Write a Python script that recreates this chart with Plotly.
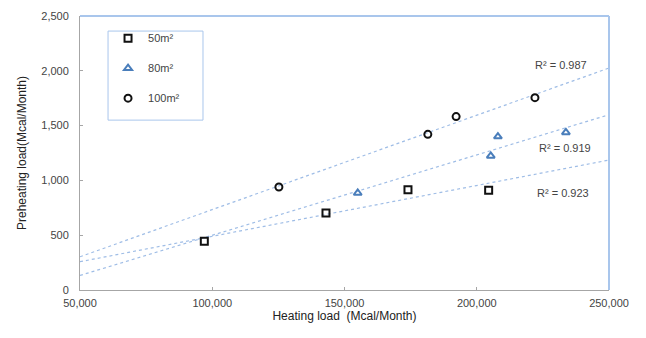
import numpy as np
import plotly.graph_objects as go

# Data (heating load in Mcal/Month, preheating load in Mcal/Month)
x50 = [97000, 143000, 174000, 204500]
y50 = [445, 703, 915, 910]
x80 = [155000, 205300, 208000, 233700]
y80 = [885, 1223, 1400, 1438]
x100 = [125200, 181500, 192200, 222000]
y100 = [940, 1420, 1582, 1755]
names = ["50m²", "80m²", "100m²"]
r2_labels = ["R² = 0.923", "R² = 0.919", "R² = 0.987"]
x_ticks = [50000, 100000, 150000, 200000, 250000]
y_ticks = [0, 500, 1000, 1500, 2000, 2500]

FONT = "Liberation Sans, Arial, sans-serif"
TREND = "#9fbde6"
fig = go.Figure()

series = [(x50, y50, "square-open", "#111111", 7),
          (x80, y80, "triangle-up-open", "#4a7ebb", 7),
          (x100, y100, "circle-open", "#111111", 7)]

xr = np.array([50000, 250000])
for (xs, ys, sym, col, sz), nm in zip(series, names):
    k, b = np.polyfit(xs, ys, 1)
    fig.add_trace(go.Scatter(x=xr, y=k * xr + b, mode="lines",
                             line=dict(color=TREND, width=1.2, dash="dot"),
                             showlegend=False, hoverinfo="skip"))

for (xs, ys, sym, col, sz), nm in zip(series, names):
    fig.add_trace(go.Scatter(x=xs, y=ys, mode="markers", name=nm, legendgroup=nm,
                             marker=dict(symbol=sym, size=sz, color=col,
                                         line=dict(color=col, width=2))))

# R² labels
ann_pos = [(232500, 885), (233500, 1296), (232000, 2053)]
for (ax, ay), t in zip(ann_pos, r2_labels):
    fig.add_annotation(x=ax, y=ay, text=t, showarrow=False,
                       font=dict(family=FONT, size=11, color="#444444"))

# top/right light blue border
fig.add_shape(type="line", xref="paper", yref="paper", x0=0, x1=1, y0=1, y1=1,
              line=dict(color="#a9c6ec", width=2))
fig.add_shape(type="line", xref="paper", yref="paper", x0=1, x1=1, y0=0, y1=1,
              line=dict(color="#a9c6ec", width=2))
# legend frame
fig.add_shape(type="rect", xref="paper", yref="paper", x0=0.053, x1=0.2325,
              y0=0.62, y1=0.945, line=dict(color="#a9c6ec", width=1),
              fillcolor="rgba(0,0,0,0)")

fig.update_layout(
    width=646, height=338,
    margin=dict(l=72, r=45, t=8, b=56),
    paper_bgcolor="white", plot_bgcolor="white",
    font=dict(family=FONT, size=11, color="#444444"),
    legend=dict(x=0.053, y=0.972, xanchor="left", yanchor="top",
                borderwidth=0, bgcolor="rgba(0,0,0,0)",
                font=dict(family=FONT, size=11, color="#444444"),
                tracegroupgap=11, itemwidth=30),
    xaxis=dict(range=[50000, 250000], tickvals=x_ticks, tickformat=",d",
               showgrid=False, zeroline=False, showline=True, linecolor="#a6a6a6",
               linewidth=1, ticks="inside", ticklen=3, tickcolor="#a6a6a6",
               automargin=False, ticklabelstandoff=3,
               title=dict(text="Heating load  (Mcal/Month)", standoff=0,
                          font=dict(family=FONT, size=12, color="#222222"))),
    yaxis=dict(range=[0, 2500], tickvals=y_ticks, tickformat=",d",
               showgrid=False, zeroline=False, showline=True, linecolor="#a6a6a6",
               linewidth=1, ticks="inside", ticklen=3, tickcolor="#a6a6a6",
               automargin=False, ticklabelstandoff=8,
               title=dict(text="Preheating load(Mcal/Month)", standoff=12,
                          font=dict(family=FONT, size=12, color="#222222"))),
)

fig.write_html("out.html")
